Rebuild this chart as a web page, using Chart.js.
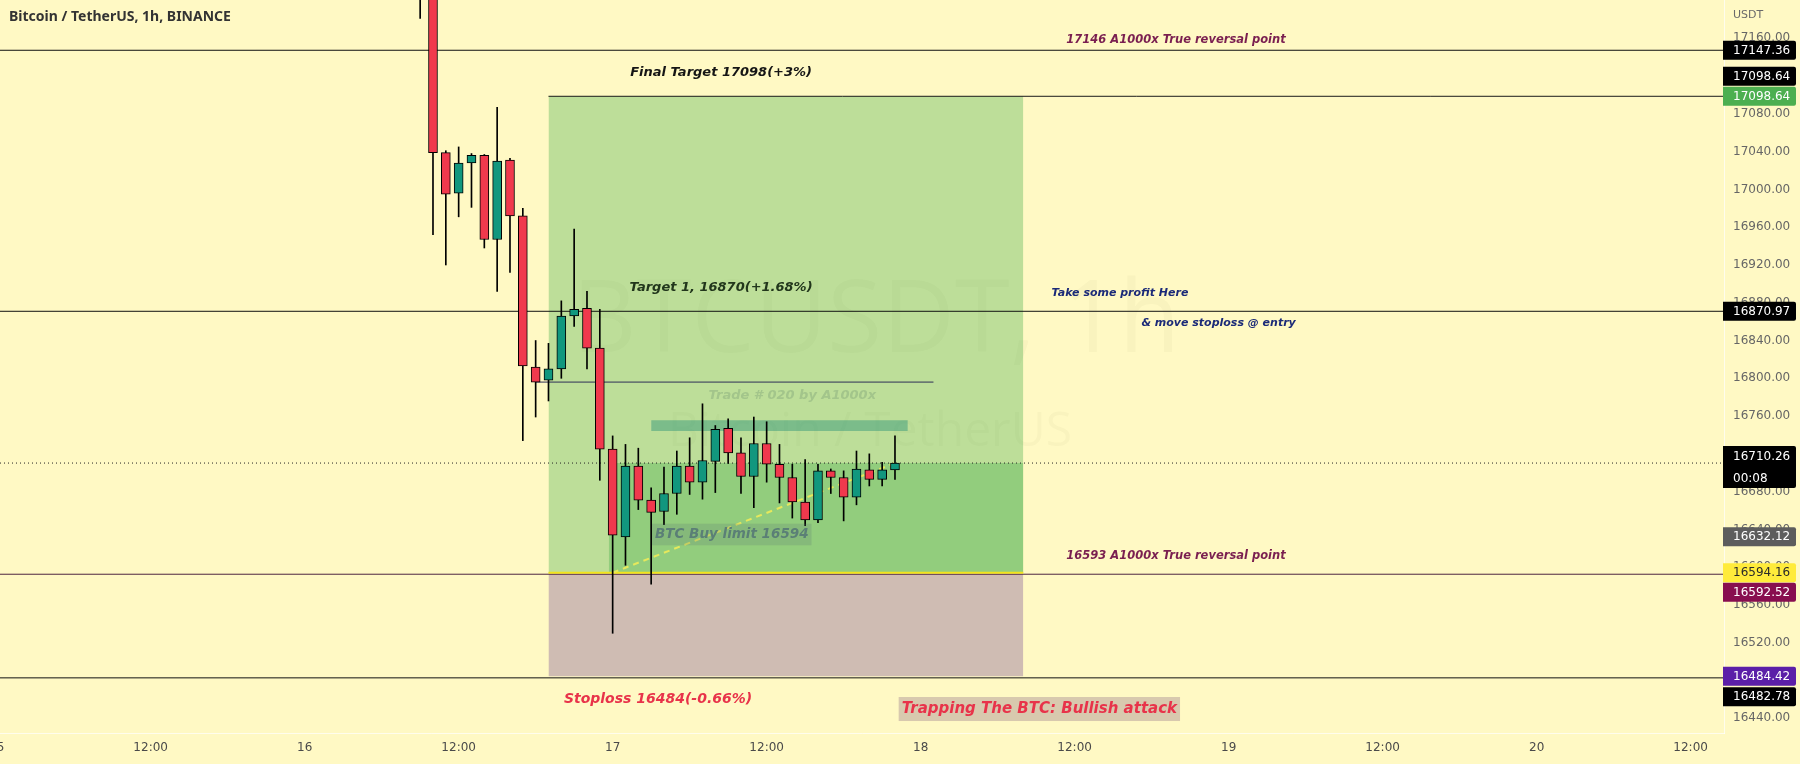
<!DOCTYPE html>
<html lang="en">
<head>
<meta charset="UTF-8">
<title>Bitcoin / TetherUS, 1h</title>
<script src="https://cdn.jsdelivr.net/npm/chart.js@4.4.1/dist/chart.umd.min.js"></script>
<style>
  html, body { margin: 0; padding: 0; background: #fff9c4; }
  #wrap { width: 1800px; height: 764px; }
</style>
</head>
<body>
<div id="wrap"><canvas id="chart" width="1800" height="764"></canvas></div>
<script>
// candles, 1h (day hh:mm)
const times = ['16 09:00', '16 10:00', '16 11:00', '16 12:00', '16 13:00', '16 14:00', '16 15:00', '16 16:00',
  '16 17:00', '16 18:00', '16 19:00', '16 20:00', '16 21:00', '16 22:00', '16 23:00', '17 00:00',
  '17 01:00', '17 02:00', '17 03:00', '17 04:00', '17 05:00', '17 06:00', '17 07:00', '17 08:00',
  '17 09:00', '17 10:00', '17 11:00', '17 12:00', '17 13:00', '17 14:00', '17 15:00', '17 16:00',
  '17 17:00', '17 18:00', '17 19:00', '17 20:00', '17 21:00', '17 22:00'];
const open  = [17250, 17228, 17039, 16996, 17028, 17036, 16947, 17031, 16972, 16812, 16798, 16810, 16866, 16874, 16832, 16725,
  16632, 16707, 16671, 16659, 16678, 16707, 16690, 16712, 16747, 16721, 16696, 16731, 16709, 16695, 16669, 16650,
  16702, 16695, 16674, 16703, 16693, 16703];
const high  = [17262, 17230, 17041, 17045, 17038, 17037, 17087, 17033, 16980, 16840, 16837, 16882, 16958, 16892, 16873, 16739,
  16730, 16726, 16684, 16706, 16723, 16737, 16773, 16750, 16757, 16737, 16759, 16754, 16730, 16709, 16714, 16709,
  16704, 16702, 16723, 16720, 16711, 16739];
const low   = [17181, 16952, 16920, 16971, 16981, 16938, 16892, 16912, 16734, 16759, 16776, 16800, 16855, 16810, 16692, 16530,
  16602, 16661, 16582, 16645, 16656, 16677, 16672, 16679, 16710, 16678, 16663, 16690, 16668, 16652, 16644, 16647,
  16678, 16649, 16666, 16686, 16686, 16693];
const close = [17228, 17039, 16995, 17028, 17036, 16947, 17030, 16972, 16813, 16796, 16810, 16866, 16873, 16832, 16725, 16634,
  16707, 16671, 16658, 16678, 16707, 16690, 16713, 16746, 16721, 16696, 16731, 16709, 16695, 16669, 16650, 16702,
  16695, 16674, 16704, 16693, 16703, 16710.26];

// price levels (USDT)
const reversalHigh = 17147.36;
const finalTarget = 17098.64;
const target1 = 16870.97;
const entryPrice = 16594.16;
const reversalLow = 16592.52;
const stopPrice = 16484.42;
const stopLine = 16482.78;
const lastPrice = 16710.26;
const markPrice = 16632.12;
const oldLevel = 16796;
const zoneTop = 16755.5, zoneBottom = 16744.2;

// time spans, hours from 15 00:00
const positionFrom = 43, positionTo = 80;
const filledFrom = 47.7, entryHour = 48, lastHour = 70;
const oldLevelFrom = 42, oldLevelTo = 73;
const zoneFrom = 51, zoneTo = 71;

// axes
const xTickHours = [0, 12, 24, 36, 48, 60, 72, 84, 96, 108, 120, 132];
const xTickLabels = ['15', '12:00', '16', '12:00', '17', '12:00', '18', '12:00', '19', '12:00', '20', '12:00'];
const yTicks = [16440, 16480, 16520, 16560, 16600, 16640, 16680, 16720, 16760, 16800, 16840, 16880,
  16920, 16960, 17000, 17040, 17080, 17120, 17160];
const X_MIN = 0.26, X_MAX = 134.6;
const Y_MIN = 16424.4, Y_MAX = 17200.6;

const UP = '#11977e', DOWN = '#f0394d';
const NOTE_FONT = '"DejaVu Sans", sans-serif';

const notes = [
  { text: '17146 A1000x True reversal point', x: 91.9, y: 17158.3, color: '#7a1f50', size: 11.5, align: 'center' },
  { text: 'Final Target 17098(+3%)', x: 56.45, y: 17123.8, color: '#151515', size: 13, align: 'center' },
  { text: 'Target 1, 16870(+1.68%)', x: 56.45, y: 16896.2, color: '#22361c', size: 13, align: 'center' },
  { text: 'Take some profit Here', x: 82.2, y: 16889.8, color: '#1b2a78', size: 11, align: 'left' },
  { text: '& move stoploss @ entry', x: 89.2, y: 16858.3, color: '#1b2a78', size: 11, align: 'left' },
  { text: 'Trade # 020 by A1000x', x: 62.0, y: 16781.3, color: '#a3c58b', size: 13, align: 'center' },
  { text: 'BTC Buy limit 16594', x: 51.3, y: 16634.6, color: '#5b7f76', size: 13.5, align: 'left', bg: 'rgba(90,120,115,0.22)' },
  { text: '16593 A1000x True reversal point', x: 91.9, y: 16612.3, color: '#7a1f50', size: 11.5, align: 'center' },
  { text: 'Stoploss 16484(-0.66%)', x: 44.2, y: 16460.4, color: '#e8334a', size: 14, align: 'left' },
  { text: 'Trapping The BTC: Bullish attack', x: 81.25, y: 16449.8, color: '#e8334a', size: 15, align: 'center', bg: '#d8c9ae' }
];

const axisTags = [
  { value: reversalHigh, text: '17147.36', bg: '#000000', fg: '#ffffff', shift: 0 },
  { value: finalTarget, text: '17098.64', bg: '#000000', fg: '#ffffff', shift: -20 },
  { value: finalTarget, text: '17098.64', bg: '#4caf50', fg: '#ffffff', shift: 0 },
  { value: target1, text: '16870.97', bg: '#000000', fg: '#ffffff', shift: 0 },
  { value: lastPrice, text: '16710.26', sub: '00:08', bg: '#000000', fg: '#ffffff', shift: 0 },
  { value: markPrice, text: '16632.12', bg: '#5d5d5d', fg: '#ffffff', shift: 0 },
  { value: entryPrice, text: '16594.16', bg: '#ffeb3b', fg: '#2a2a2a', shift: 0 },
  { value: reversalLow, text: '16592.52', bg: '#880e4f', fg: '#ffffff', shift: 18 },
  { value: stopPrice, text: '16484.42', bg: '#5b1fa8', fg: '#ffffff', shift: 0 },
  { value: stopLine, text: '16482.78', bg: '#000000', fg: '#ffffff', shift: 19 }
];

function hourOf(s) {
  const day = parseInt(s.slice(0, 2), 10);
  const hh = parseInt(s.slice(3, 5), 10);
  return (day - 15) * 24 + hh;
}

function hline(value, from, to, color, extra) {
  return Object.assign({
    type: 'line',
    data: [{ x: from, y: value }, { x: to, y: value }],
    borderColor: color,
    borderWidth: 1,
    pointRadius: 0,
    fill: false,
    order: 5
  }, extra || {});
}

function zone(top, bottom, from, to, color, order) {
  return {
    type: 'line',
    data: [{ x: from, y: top }, { x: to, y: top }],
    borderWidth: 0,
    borderColor: 'rgba(0,0,0,0)',
    backgroundColor: color,
    pointRadius: 0,
    fill: { value: bottom },
    order: order
  };
}

function noPadding(s) {
  s.paddingLeft = 0;
  s.paddingRight = 0;
  s.paddingTop = 0;
  s.paddingBottom = 0;
}

const hours = times.map(hourOf);

const overlay = {
  id: 'overlay',
  beforeDatasetsDraw(chart) {
    const c = chart.ctx, a = chart.chartArea;
    c.save();
    c.beginPath();
    c.rect(a.left, a.top, a.right - a.left, a.bottom - a.top);
    c.clip();
    c.fillStyle = 'rgba(60,60,20,0.03)';
    c.textAlign = 'center';
    c.textBaseline = 'middle';
    c.font = '100px "Open Sans", sans-serif';
    c.fillText('BTCUSDT, 1h', 876, 324);
    c.font = '48px "Open Sans", sans-serif';
    c.fillText('Bitcoin / TetherUS', 870, 432);
    c.restore();
  },
  afterDatasetsDraw(chart) {
    const c = chart.ctx, xs = chart.scales.x, ys = chart.scales.y;
    c.save();
    notes.forEach(n => {
      const px = xs.getPixelForValue(n.x), py = ys.getPixelForValue(n.y);
      c.font = 'italic bold ' + n.size + 'px ' + NOTE_FONT;
      c.textBaseline = 'middle';
      c.textAlign = n.align;
      if (n.bg) {
        const w = c.measureText(n.text).width;
        const left = n.align === 'center' ? px - w / 2 : px;
        c.fillStyle = n.bg;
        c.fillRect(left - 3, py - n.size * 0.8, w + 6, n.size * 1.6);
      }
      c.fillStyle = n.color;
      c.fillText(n.text, px, py);
    });
    c.restore();
  },
  afterDraw(chart) {
    const c = chart.ctx, a = chart.chartArea, ys = chart.scales.y;
    c.save();
    // pane title
    c.font = 'bold 14px "Noto Sans", sans-serif';
    c.fillStyle = '#333333';
    c.textAlign = 'left';
    c.textBaseline = 'middle';
    c.fillText('Bitcoin / TetherUS, 1h, BINANCE', 9, 17);
    // currency on the price axis
    c.font = '11px "DejaVu Sans", sans-serif';
    c.fillStyle = '#6a6a6a';
    c.fillText('USDT', a.right + 9, 15);
    // price tags
    c.font = '12px "DejaVu Sans", sans-serif';
    axisTags.forEach(t => {
      const py = ys.getPixelForValue(t.value) + t.shift;
      const h = t.sub ? 42 : 19;
      const top = t.sub ? py - 17 : py - h / 2;
      c.fillStyle = t.bg;
      c.beginPath();
      c.roundRect(a.right - 1, top, 73, h, [0, 2, 2, 0]);
      c.fill();
      c.fillStyle = t.fg;
      c.fillText(t.text, a.right + 9, t.sub ? py - 6 : py + 0.5);
      if (t.sub) c.fillText(t.sub, a.right + 9, py + 16);
    });
    c.restore();
  }
};

new Chart(document.getElementById('chart'), {
  type: 'bar',
  data: {
    datasets: [
      zone(finalTarget, entryPrice, positionFrom, positionTo, 'rgba(76,175,80,0.37)', 12),
      zone(lastPrice, entryPrice, filledFrom, positionTo, 'rgba(76,175,80,0.38)', 11),
      zone(entryPrice, stopPrice, positionFrom, positionTo, '#cfbcb3', 12),
      zone(zoneTop, zoneBottom, zoneFrom, zoneTo, 'rgba(30,140,120,0.42)', 10),
      hline(reversalHigh, X_MIN, X_MAX, '#111111'),
      hline(finalTarget, positionFrom, X_MAX, '#1a1a1a'),
      hline(target1, X_MIN, X_MAX, '#111111'),
      hline(oldLevel, oldLevelFrom, oldLevelTo, '#2e2e56'),
      hline(lastPrice, X_MIN, X_MAX, '#222222', { borderDash: [1, 3] }),
      hline(entryPrice, positionFrom, positionTo, '#f2e41c', { borderWidth: 2 }),
      hline(reversalLow, X_MIN, X_MAX, '#4d2440'),
      hline(stopLine, X_MIN, X_MAX, '#111111'),
      {
        type: 'line',
        data: [{ x: entryHour, y: entryPrice }, { x: lastHour, y: lastPrice }],
        borderColor: '#e6e85c',
        borderWidth: 2,
        borderDash: [6, 5],
        pointRadius: 0,
        fill: false,
        order: 4
      },
      {
        type: 'bar',
        data: hours.map((h, i) => ({ x: h, y: [low[i], high[i]] })),
        backgroundColor: '#000000',
        barThickness: 1,
        grouped: false,
        order: 1
      },
      {
        type: 'bar',
        data: hours.map((h, i) => ({ x: h, y: [open[i], close[i]] })),
        backgroundColor: close.map((c, i) => c >= open[i] ? UP : DOWN),
        borderColor: '#000000',
        borderWidth: 1,
        borderSkipped: false,
        barThickness: 9,
        grouped: false,
        order: 0
      }
    ]
  },
  options: {
    responsive: false,
    animation: false,
    devicePixelRatio: 1,
    layout: { padding: 0 },
    plugins: {
      legend: { display: false },
      tooltip: { enabled: false }
    },
    scales: {
      x: {
        type: 'linear',
        offset: false,
        min: X_MIN,
        max: X_MAX,
        afterFit: s => { s.height = 31; noPadding(s); },
        afterBuildTicks: s => { s.ticks = xTickHours.map(v => ({ value: v })); },
        grid: { display: false, drawTicks: false },
        border: { display: true, color: 'rgba(255,255,255,0.7)' },
        ticks: {
          autoSkip: false,
          maxRotation: 0,
          padding: 8,
          color: '#4a4a4a',
          font: { family: '"DejaVu Sans", sans-serif', size: 12 },
          callback: (v) => xTickLabels[xTickHours.indexOf(v)]
        }
      },
      y: {
        type: 'linear',
        position: 'right',
        min: Y_MIN,
        max: Y_MAX,
        afterFit: s => { s.width = 76; noPadding(s); },
        afterBuildTicks: s => { s.ticks = yTicks.map(v => ({ value: v })); },
        grid: { display: false, drawTicks: false },
        border: { display: true, color: 'rgba(255,255,255,0.7)' },
        ticks: {
          padding: 9,
          color: '#666666',
          font: { family: '"DejaVu Sans", sans-serif', size: 12 },
          callback: v => v.toFixed(2)
        }
      }
    }
  },
  plugins: [overlay]
});
</script>
</body>
</html>
